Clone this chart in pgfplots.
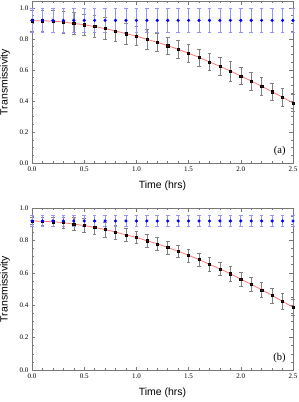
\documentclass[border=0pt]{standalone}
\usepackage{pgfplots}
\pgfplotsset{compat=1.18}
\usepackage{pgfplotstable}
\usepackage{fontspec}
\setmainfont{Liberation Serif}
\newfontfamily\labelfont{Liberation Sans}
\definecolor{frm}{RGB}{120,120,120}
\definecolor{pblue}{RGB}{0,0,255}
\definecolor{lblue}{RGB}{150,150,250}
\definecolor{lred}{RGB}{255,120,120}
\definecolor{dred}{RGB}{100,0,0}

\pgfplotstableread{
t  b    eb    k     ek
0.0 0.92 0.08 0.918 0.07
0.1 0.92 0.08 0.918 0.07
0.2 0.92 0.08 0.915 0.07
0.3 0.92 0.08 0.910 0.072
0.4 0.92 0.08 0.900 0.07
0.5 0.92 0.08 0.892 0.066
0.6 0.92 0.08 0.880 0.07
0.7 0.92 0.08 0.867 0.07
0.8 0.92 0.08 0.852 0.068
0.9 0.92 0.08 0.834 0.065
1.0 0.92 0.08 0.819 0.06
1.1 0.92 0.08 0.798 0.065
1.2 0.92 0.08 0.779 0.06
1.3 0.92 0.08 0.757 0.055
1.4 0.92 0.08 0.733 0.06
1.5 0.92 0.08 0.708 0.058
1.6 0.92 0.08 0.682 0.055
1.7 0.92 0.08 0.652 0.055
1.8 0.92 0.08 0.624 0.058
1.9 0.92 0.08 0.594 0.065
2.0 0.92 0.08 0.561 0.055
2.1 0.92 0.08 0.529 0.057
2.2 0.92 0.08 0.495 0.055
2.3 0.92 0.08 0.460 0.055
2.4 0.92 0.08 0.424 0.056
2.5 0.92 0.08 0.387 0.055
}\dataA

\pgfplotstableread{
t  b    eb    k     ek
0.0 0.92 0.035 0.920 0.02
0.1 0.92 0.035 0.918 0.025
0.2 0.92 0.035 0.915 0.03
0.3 0.92 0.035 0.910 0.035
0.4 0.92 0.035 0.900 0.04
0.5 0.92 0.035 0.892 0.043
0.6 0.92 0.035 0.880 0.045
0.7 0.92 0.035 0.867 0.045
0.8 0.92 0.035 0.852 0.043
0.9 0.92 0.035 0.834 0.04
1.0 0.92 0.035 0.819 0.038
1.1 0.92 0.035 0.798 0.04
1.2 0.92 0.035 0.779 0.04
1.3 0.92 0.035 0.757 0.04
1.4 0.92 0.035 0.733 0.04
1.5 0.92 0.035 0.708 0.04
1.6 0.92 0.035 0.682 0.04
1.7 0.92 0.035 0.652 0.042
1.8 0.92 0.035 0.624 0.042
1.9 0.92 0.035 0.594 0.045
2.0 0.92 0.035 0.561 0.045
2.1 0.92 0.035 0.529 0.045
2.2 0.92 0.035 0.495 0.045
2.3 0.92 0.035 0.460 0.047
2.4 0.92 0.035 0.424 0.048
2.5 0.92 0.035 0.387 0.048
}\dataB

\pgfplotsset{
  panel/.style={
    scale only axis, width=261pt, height=162pt,
    xmin=0, xmax=2.5, ymin=0,
    xtick={0,0.5,...,2.5}, ytick={0,0.2,...,1.0},
    minor x tick num=4, minor y tick num=3,
    xticklabel style={/pgf/number format/fixed,/pgf/number format/fixed zerofill,/pgf/number format/precision=1},
    yticklabel style={/pgf/number format/fixed,/pgf/number format/fixed zerofill,/pgf/number format/precision=1},
    /pgf/number format/assume math mode=true,
    ticklabel style={font=\rmfamily\fontsize{7}{8}\selectfont, text=black},
    tick align=inside, tick pos=both,
    major tick length=3.5pt, minor tick length=2pt,
    axis line style={frm, line width=0.6pt},
    tick style={frm, line width=0.5pt},
    xlabel={\labelfont Time (hrs)}, ylabel={\labelfont Transmissivity},
    label style={font=\fontsize{10.5}{12}\selectfont},
    xlabel style={at={(axis description cs:0.5,0)}, anchor=center, yshift=-23pt},
    ylabel style={at={(axis description cs:0,0.5)}, anchor=center, yshift=27pt},
    clip=false,
  },
  bluepts/.style={pblue, only marks, mark=*, mark size=1.4pt,
    error bars/.cd, y dir=both, y explicit,
    error bar style={lblue, line width=0.7pt},
    error mark options={lblue, mark size=1.8pt, line width=0.6pt, rotate=90}},
  blackpts/.style={black, only marks, mark=square*, mark size=1.1pt,
    mark options={fill=dred, draw=black, line width=0.4pt},
    error bars/.cd, y dir=both, y explicit,
    error bar style={gray, line width=0.5pt},
    error mark options={gray, mark size=1.8pt, line width=0.5pt, rotate=90}},
}

\begin{document}
\begin{tikzpicture}
\useasboundingbox (0,0) rectangle (299pt,-402pt);
\begin{axis}[panel, ymax=1.045, at={(32pt,-163pt)}, anchor=south west]
  \addplot[lred, line width=0.8pt, no marks] table[x=t, y=k] {\dataA};
  \addplot[blackpts] table[x=t, y=k, y error=ek] {\dataA};
  \addplot[bluepts] table[x=t, y=b, y error=eb] {\dataA};
  \node[anchor=south east, font=\fontsize{10.5}{12}\selectfont, inner sep=1pt] at (axis cs:2.44,0.04) {(a)};
\end{axis}
\begin{axis}[panel, ymax=1.0, at={(32pt,-370pt)}, anchor=south west]
  \addplot[lred, line width=0.8pt, no marks] table[x=t, y=k] {\dataB};
  \addplot[blackpts] table[x=t, y=k, y error=ek] {\dataB};
  \addplot[bluepts] table[x=t, y=b, y error=eb] {\dataB};
  \node[anchor=south east, font=\fontsize{10.5}{12}\selectfont, inner sep=1pt] at (axis cs:2.44,0.04) {(b)};
\end{axis}
\end{tikzpicture}
\end{document}
